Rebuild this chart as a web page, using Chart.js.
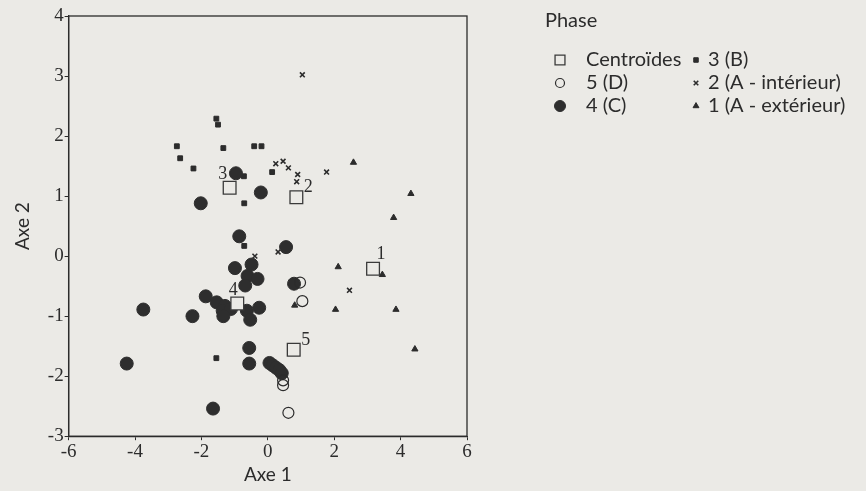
<!DOCTYPE html>
<html>
<head>
<meta charset="utf-8">
<script src="https://cdn.jsdelivr.net/npm/chart.js@4"></script>
<style>
  html, body { margin: 0; padding: 0; background: #ebeae6; }
  canvas { display: block; }
</style>
</head>
<body>
<canvas id="myChart" width="866" height="491"></canvas>
<script>
// valeurs (Axe 1, Axe 2)
const centroides = [[3.17, -0.21], [0.86, 0.98], [-1.15, 1.14], [-0.92, -0.79], [0.78, -1.56]]
const centroideLabels = ['1', '2', '3', '4', '5']

const phase5D = [[0.97, -0.44], [1.04, -0.75], [0.46, -2.07], [0.46, -2.15], [0.62, -2.61]]

const phase4C = [
  [-0.96, 1.38], [-0.21, 1.06], [-2.02, 0.88], [-0.86, 0.33], [0.55, 0.15],
  [-0.99, -0.20], [-0.49, -0.14], [-0.61, -0.33], [-0.31, -0.38], [-0.68, -0.49],
  [0.79, -0.46], [-1.87, -0.67], [-1.54, -0.77], [-1.29, -0.83], [-1.36, -0.91],
  [-1.11, -0.88], [-1.34, -1.00], [-2.27, -1.00], [-0.63, -0.91], [-0.26, -0.86],
  [-0.53, -1.06], [-3.75, -0.89], [-4.25, -1.79], [-0.56, -1.53], [-0.56, -1.79],
  [0.05, -1.78], [0.15, -1.82], [0.25, -1.86], [0.35, -1.90], [0.42, -1.95],
  [-1.65, -2.54]
]

const phase3B = [
  [-1.55, 2.29], [-1.50, 2.19], [-2.74, 1.83], [-2.64, 1.63], [-2.24, 1.46],
  [-1.34, 1.80], [-0.41, 1.83], [-0.19, 1.83], [-0.72, 1.33], [0.13, 1.40],
  [-0.71, 0.88], [-0.71, 0.17], [-1.55, -1.70]
]

const phase2Aint = [
  [1.04, 3.02], [0.24, 1.54], [0.46, 1.58], [0.62, 1.47], [0.90, 1.36],
  [0.87, 1.24], [1.77, 1.40], [-0.39, 0.00], [0.31, 0.07], [2.46, -0.57]
]

const phase1Aext = [
  [2.58, 1.56], [4.31, 1.04], [3.79, 0.64], [2.12, -0.18], [3.17, -0.26],
  [3.45, -0.31], [0.81, -0.82], [2.04, -0.89], [3.86, -0.89], [4.43, -1.55]
]

const xTicks = [-6, -4, -2, 0, 2, 4, 6]
const yTicks = [-3, -2, -1, 0, 1, 2, 3, 4]

const ink = '#2c2c2c'
const paper = '#ebeae6'

const toPoints = arr => arr.map(p => ({x: p[0], y: p[1]}))

const canvas = document.getElementById('myChart')

// position des numéros de centroïdes (décalage en pixels)
const labelOffsets = [[8, -14], [12, -10], [-7, -13], [-4, -13], [12, -9]]

const decorPlugin = {
  id: 'decor',
  afterDraw(chart) {
    const ctx = chart.ctx
    const area = chart.chartArea
    const xs = chart.scales.x
    const ys = chart.scales.y
    ctx.save()
    // cadre
    ctx.strokeStyle = ink
    ctx.lineWidth = 1.3
    ctx.strokeRect(area.left, area.top, area.right - area.left, area.bottom - area.top)

    // numéros des centroïdes
    ctx.fillStyle = ink
    ctx.font = '18px "Liberation Serif", serif'
    ctx.textAlign = 'center'
    ctx.textBaseline = 'middle'
    centroides.forEach((c, i) => {
      const px = xs.getPixelForValue(c[0]) + labelOffsets[i][0]
      const py = ys.getPixelForValue(c[1]) + labelOffsets[i][1]
      ctx.fillText(centroideLabels[i], px, py)
    })

    // légende
    ctx.textAlign = 'left'
    ctx.font = '20px Lato, sans-serif'
    ctx.fillText('Phase', 545, 21)
    const ds = chart.data.datasets
    const legendOrder = [[0, 560, 586, 60], [1, 560, 586, 83], [2, 560, 586, 106],
                         [3, 696, 708, 60], [4, 696, 708, 83], [5, 696, 708, 106]]
    legendOrder.forEach(([i, mx, tx, y]) => {
      const d = ds[i]
      ctx.fillStyle = d.backgroundColor
      ctx.strokeStyle = d.borderColor
      ctx.lineWidth = d.borderWidth
      Chart.helpers.drawPoint(ctx, {
        pointStyle: d.pointStyle,
        radius: d.legendRadius,
        borderWidth: d.borderWidth,
        rotation: 0
      }, mx, y)
      ctx.fillStyle = ink
      ctx.fillText(d.label, tx, y)
    })
    ctx.restore()
  }
}

const config = {
  type: 'scatter',
  data: {
    datasets: [
      {label: 'Centroïdes', data: toPoints(centroides), pointStyle: 'rect', pointRadius: 9,
       legendRadius: 7, backgroundColor: paper, borderColor: '#3a3a3a', borderWidth: 1.3},
      {label: '5 (D)', data: toPoints(phase5D), pointStyle: 'circle', pointRadius: 5.5,
       legendRadius: 4.5, backgroundColor: 'rgba(0,0,0,0)', borderColor: ink, borderWidth: 1.2},
      {label: '4 (C)', data: toPoints(phase4C), pointStyle: 'circle', pointRadius: 6.5,
       legendRadius: 5.5, backgroundColor: '#2e2e2e', borderColor: '#2e2e2e', borderWidth: 1},
      {label: '3 (B)', data: toPoints(phase3B), pointStyle: 'rect', pointRadius: 3.4,
       legendRadius: 3.2, backgroundColor: ink, borderColor: ink, borderWidth: 1},
      {label: '2 (A - intérieur)', data: toPoints(phase2Aint), pointStyle: 'crossRot', pointRadius: 3.4,
       legendRadius: 3.2, backgroundColor: ink, borderColor: ink, borderWidth: 1.6},
      {label: '1 (A - extérieur)', data: toPoints(phase1Aext), pointStyle: 'triangle', pointRadius: 3.6,
       legendRadius: 3.4, backgroundColor: ink, borderColor: ink, borderWidth: 1}
    ]
  },
  options: {
    responsive: false,
    animation: false,
    events: [],
    layout: {
      padding: {left: 11, top: 16, right: 399, bottom: 5}
    },
    plugins: {
      legend: {display: false},
      tooltip: {enabled: false}
    },
    scales: {
      x: {
        type: 'linear', min: -6, max: 6,
        afterBuildTicks: axis => { axis.ticks = xTicks.map(v => ({value: v})) },
        grid: {display: true, drawOnChartArea: false, drawTicks: true, tickLength: 4, color: ink},
        border: {display: true, color: ink, width: 1.3},
        ticks: {color: ink, padding: 2, maxRotation: 0,
                font: {family: '"Liberation Serif", serif', size: 19, lineHeight: 1}},
        title: {display: true, text: 'Axe 1', color: ink, padding: {top: 0, bottom: 0},
                font: {family: 'Lato, sans-serif', size: 19}}
      },
      y: {
        type: 'linear', min: -3, max: 4,
        afterBuildTicks: axis => { axis.ticks = yTicks.map(v => ({value: v})) },
        grid: {display: true, drawOnChartArea: false, drawTicks: true, tickLength: 4, color: ink},
        border: {display: true, color: ink, width: 1.3},
        ticks: {color: ink, padding: 1, font: {family: '"Liberation Serif", serif', size: 19}},
        title: {display: true, text: 'Axe 2', color: ink, padding: {top: 0, bottom: 13},
                font: {family: 'Lato, sans-serif', size: 19}}
      }
    }
  },
  plugins: [decorPlugin]
}

const myChart = new Chart(canvas, config)
</script>
</body>
</html>
